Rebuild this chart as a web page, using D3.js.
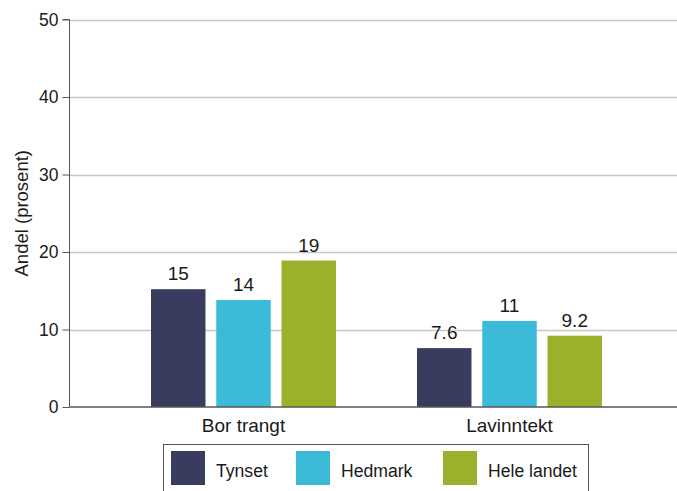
<!DOCTYPE html>
<html><head><meta charset="utf-8">
<script src="https://cdn.jsdelivr.net/npm/d3@7"></script>
<style>body{margin:0;background:#fff}svg{display:block}text{font-family:"Liberation Sans",Arial,sans-serif}</style>
</head><body><svg id="c" width="677" height="491"></svg>
<script>
const categories = ["Bor trangt", "Lavinntekt"];
const seriesNames = ["Tynset", "Hedmark", "Hele landet"];
const tynset = [15.2, 7.6];
const hedmark = [13.8, 11.1];
const heleLandet = [18.9, 9.2];
const seriesColors = ["#3a3c5f", "#3bbbd8", "#9ab22b"];
const yTicks = [0, 10, 20, 30, 40, 50];
const yTitle = "Andel (prosent)";

const series = [tynset, hedmark, heleLandet];
const svg = d3.select("#c");
const plotLeft = 69.5, plotTop = 19.5, plotBottom = 407;
const FONT = "Liberation Sans, Arial, sans-serif";

const y = d3.scaleLinear().domain([0, 50]).range([plotBottom, plotTop]);
const x0 = d3.scaleBand().domain(categories).range([70, 683]).padding(0.3045);
const x1 = d3.scaleBand().domain(seriesNames).range([0, x0.bandwidth()]).paddingInner(0.165).paddingOuter(0);
const fmt = d3.format(".2");

// gridlines
svg.append("g").selectAll("line").data(yTicks.filter(d => d > 0)).join("line")
  .attr("x1", plotLeft).attr("x2", 677).attr("y1", d => Math.round(y(d)) + 0.5).attr("y2", d => Math.round(y(d)) + 0.5)
  .attr("stroke", "#c8c8c8").attr("stroke-width", 1.3);

// bars
const groups = svg.append("g").selectAll("g").data(categories).join("g")
  .attr("transform", c => `translate(${x0(c)},0)`);
groups.each(function(c, ci) {
  const g = d3.select(this);
  seriesNames.forEach((s, si) => {
    const v = series[si][ci];
    g.append("rect").attr("x", x1(s)).attr("width", x1.bandwidth())
      .attr("y", y(v)).attr("height", y(0) - y(v)).attr("fill", seriesColors[si]);
    g.append("text").attr("x", x1(s) + x1.bandwidth() / 2).attr("y", y(v) - 9)
      .attr("text-anchor", "middle").attr("font-size", 19).attr("fill", "#1a1a1a").text(fmt(v));
  });
});

// y axis
const yAxis = d3.axisLeft(y).tickValues(yTicks).tickSize(7).tickPadding(4);
const ya = svg.append("g").attr("transform", `translate(${plotLeft},0)`).call(yAxis);
ya.select(".domain").attr("stroke", "#555").attr("d", `M-7,${plotTop}H0V${plotBottom}`);
ya.selectAll(".tick line").attr("stroke", "#555");
ya.selectAll(".tick text").attr("font-size", 17.5).attr("fill", "#1a1a1a").attr("font-family", FONT);

// baseline
svg.append("line").attr("x1", plotLeft).attr("x2", 677).attr("y1", plotBottom).attr("y2", plotBottom)
  .attr("stroke", "#555").attr("stroke-width", 1.3);

// x labels
const xAxis = d3.axisBottom(x0).tickSize(0).tickPadding(11.5);
const xa = svg.append("g").attr("transform", `translate(0,${plotBottom})`).call(xAxis);
xa.select(".domain").remove();
xa.selectAll(".tick text").attr("font-size", 19).attr("fill", "#1a1a1a").attr("font-family", FONT);

// y title
svg.append("text").attr("transform", `translate(27.5,${(plotTop + plotBottom) / 2}) rotate(-90)`)
  .attr("text-anchor", "middle").attr("font-size", 18.5).attr("fill", "#1a1a1a").text(yTitle);

// legend
const lg = svg.append("g");
lg.append("rect").attr("x", 163.5).attr("y", 444.5).attr("width", 425).attr("height", 60)
  .attr("fill", "#fff").attr("stroke", "#555").attr("stroke-width", 1);
const legX = [171, 296, 443];
seriesNames.forEach((s, i) => {
  lg.append("rect").attr("x", legX[i]).attr("y", 451).attr("width", 34).attr("height", 34).attr("fill", seriesColors[i]);
  lg.append("text").attr("x", legX[i] + 45).attr("y", 477).attr("font-size", 17.6).attr("fill", "#1a1a1a").text(s);
});
</script></body></html>
